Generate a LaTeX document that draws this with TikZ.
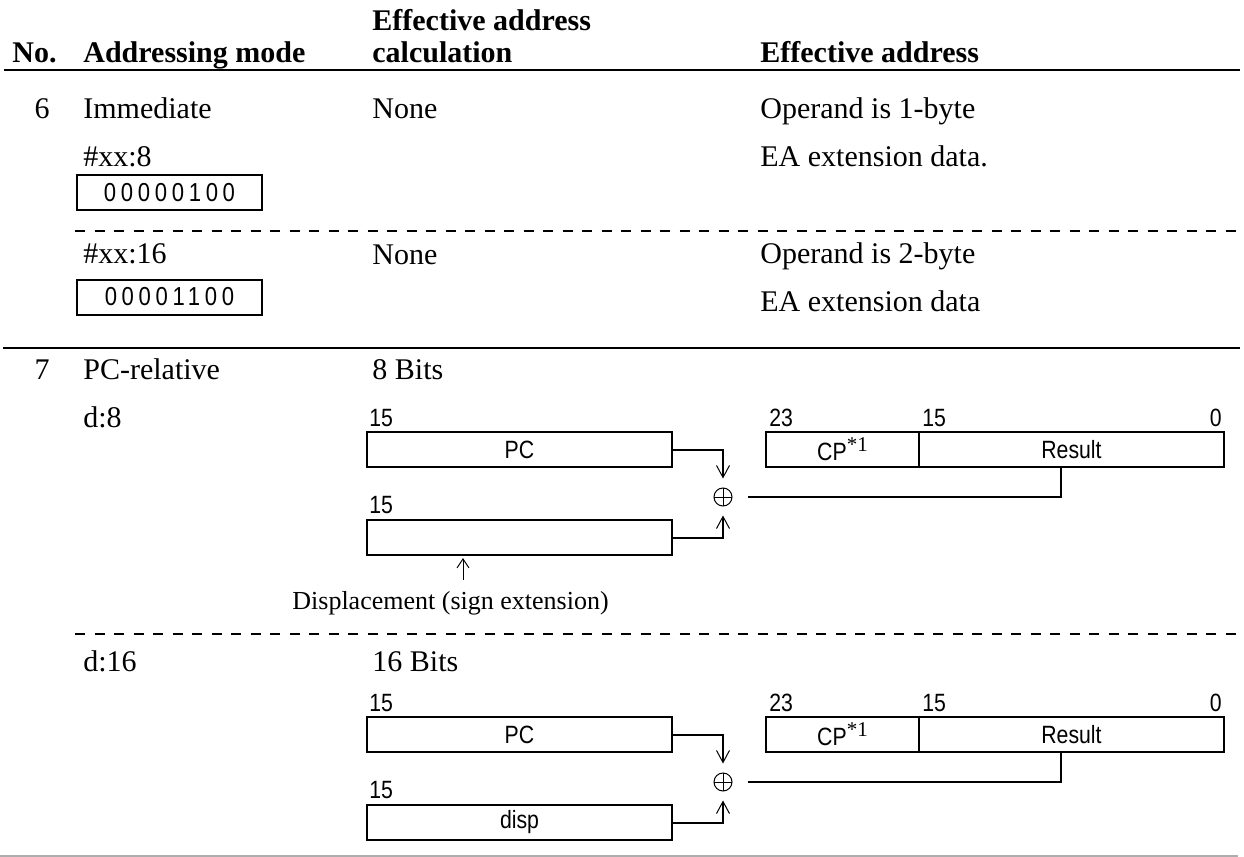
\documentclass[tikz,border=0pt]{standalone}
\usepackage{fontspec}
\setmainfont{Liberation Serif}
\newfontfamily\regfont[FakeStretch=0.85]{Liberation Sans}
\usetikzlibrary{arrows.meta}

% footnote mark after "CP" in the register cells
\newcommand\cpnote{\raisebox{4.5pt}{\rmfamily\fontsize{10.5}{10.5}\selectfont *1}}

\tikzset{
  body/.style={anchor=base west, inner sep=0pt, font=\fontsize{15}{18}\selectfont},
  head/.style={body, font=\fontsize{15}{18}\selectfont\bfseries},
  note/.style={body, font=\fontsize{13}{16}\selectfont},
  bitno/.style={anchor=base west, inner sep=0pt, font=\regfont\fontsize{12.5}{13}\selectfont},
  regbox/.style={draw, line width=1pt, minimum height=17.5pt, inner sep=0pt,
    font=\regfont\fontsize{12.5}{13}\selectfont},
  opbox/.style={regbox, minimum width=92.5pt,
    font=\regfont\fontsize{13}{13}\selectfont\addfontfeature{LetterSpace=18}},
  rule/.style={line width=1pt},
  sep/.style={line width=0.65pt, dash pattern=on 5pt off 4.75pt},
  wire/.style={line width=1pt},
  feed/.style={wire, -{Straight Barb[length=6pt,width=6.5pt,line width=0.5pt]}, shorten >=4.5pt},
  pointer/.style={line width=0.5pt, -{Straight Barb[length=4.5pt,width=6pt,line width=0.5pt]}, shorten >=1pt},
  adder/.style={circle, draw, line width=0.5pt, minimum size=9pt, inner sep=0pt,
    path picture={\draw[line width=0.5pt]
      (path picture bounding box.north) -- (path picture bounding box.south)
      (path picture bounding box.west) -- (path picture bounding box.east);}},
}

\begin{document}
\begin{tikzpicture}[x=0.5pt, y=-0.5pt]
\useasboundingbox (0,0) rectangle (1244,857);

% ---- table head ----
\node[head] (hNo)   at (12,62)  {No.};
\node[head] (hMode) at (83,62)  {Addressing mode};
\node[head] (hCalcA) at (372,30) {Effective address};
\node[head] (hCalcB) at (372,62) {calculation};
\node[head] (hEA)   at (760,62) {Effective address};
\draw[rule] (4,70) -- (1240,70);

% ---- mode 6: immediate ----
\node[body, anchor=base] (n6) at (42,118) {6};
\node[body] (imm)   at (83,118)  {Immediate};
\node[body] (none1) at (372,118) {None};
\node[body] (ea1a)  at (760,118) {Operand is 1-byte};
\node[body] (xx8)   at (83,166)  {\#xx:8};
\node[body] (ea1b)  at (760,166) {EA extension data.};
\node[opbox] (op8)  at (169.5,192.5) {00000100};

\draw[sep] (75,231) -- (1240,231);

\node[body] (xx16)  at (83,263)  {\#xx:16};
\node[body] (none2) at (372,264) {None};
\node[body] (ea2a)  at (760,263) {Operand is 2-byte};
\node[opbox] (op16) at (169.5,297) {00001100};
\node[body] (ea2b)  at (760,311) {EA extension data};

\draw[rule] (3,348) -- (1240,348);

% ---- mode 7: PC-relative ----
\node[body, anchor=base] (n7) at (42,379) {7};
\node[body] (pcrel) at (83,379)  {PC-relative};
\node[body] (bits8) at (372,379) {8 Bits};
\node[body] (d8)    at (83,427)  {d:8};

% d:8 calculation
\node[bitno] (aPC15) at (369,426) {15};
\node[regbox, minimum width=152.5pt] (aPC) at (519.5,449.5) {PC};
\node[bitno] (aD15) at (369,513) {15};
\node[regbox, minimum width=152.5pt] (aDisp) at (519.5,537.5) {};
\node[adder] (aSum) at (723,497) {};
\node[bitno] (aB23) at (769,426) {23};
\node[bitno] (aB15) at (922,426) {15};
\node[bitno, anchor=base east] (aB0) at (1222,426) {0};
\node[regbox, minimum width=76.5pt]  (aCP)  at (842.5,449.5)  {CP\cpnote};
\node[regbox, minimum width=152.5pt] (aRes) at (1071.5,449.5) {Result};
\draw[feed] (aPC.east) -| (aSum.north);
\draw[feed] (aDisp.east) -| (aSum.south);
\draw[wire] ([xshift=7.5pt]aSum.east) -| ([xshift=-5.5pt]aRes.south);
\coordinate (aTail) at (463,580);
\draw[pointer] (aTail) -- (aTail |- aDisp.south);
\node[note] (dispnote) at (292,609) {Displacement (sign extension)};

\draw[sep] (75,634) -- (1240,634);

% d:16 calculation
\node[body] (d16)    at (83,671)  {d:16};
\node[body] (bits16) at (372,671) {16 Bits};
\node[bitno] (bPC15) at (369,711) {15};
\node[regbox, minimum width=152.5pt] (bPC) at (519.5,734.5) {PC};
\node[bitno] (bD15) at (369,798) {15};
\node[regbox, minimum width=152.5pt] (bDisp) at (519.5,822.5) {disp};
\node[adder] (bSum) at (723,782) {};
\node[bitno] (bB23) at (769,711) {23};
\node[bitno] (bB15) at (922,711) {15};
\node[bitno, anchor=base east] (bB0) at (1222,711) {0};
\node[regbox, minimum width=76.5pt]  (bCP)  at (842.5,734.5)  {CP\cpnote};
\node[regbox, minimum width=152.5pt] (bRes) at (1071.5,734.5) {Result};
\draw[feed] (bPC.east) -| (bSum.north);
\draw[feed] (bDisp.east) -| (bSum.south);
\draw[wire] ([xshift=7.5pt]bSum.east) -| ([xshift=-5.5pt]bRes.south);

\draw[line width=1pt, draw=black!32] (0,856) -- (1238,856);
\end{tikzpicture}
\end{document}
